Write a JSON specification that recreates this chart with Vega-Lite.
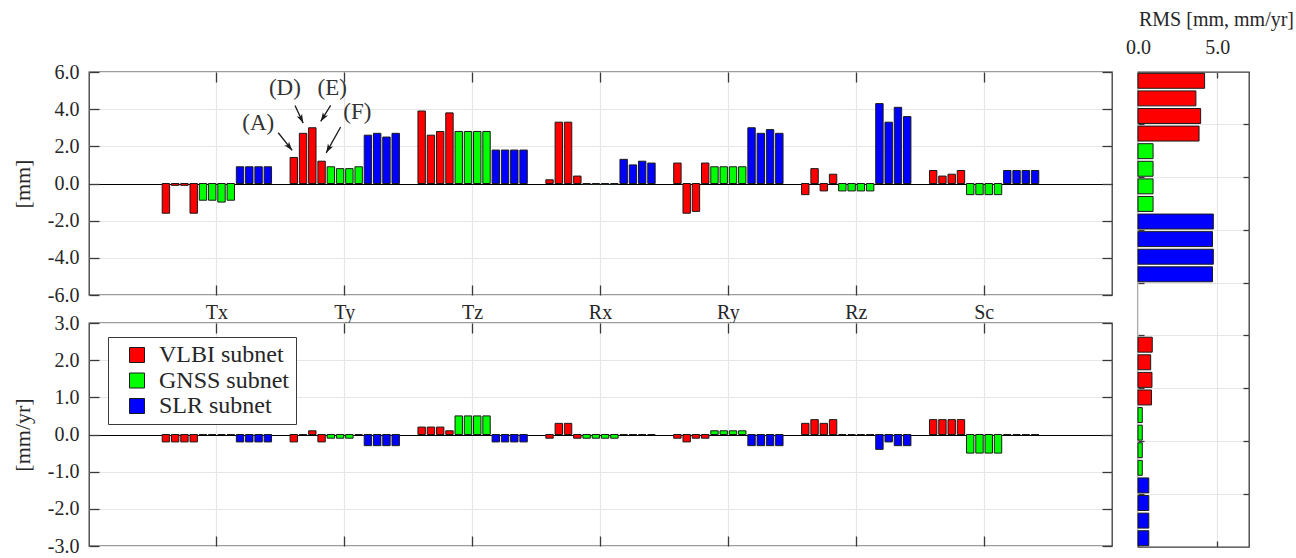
{
  "$schema": "https://vega.github.io/schema/vega-lite/v6.json",
  "padding": {"left": 10, "top": -403, "right": 0, "bottom": 0},
  "background": "white",
  "config": {
    "font": "Liberation Serif",
    "view": {"stroke": "#3a3a3a", "strokeWidth": 1.3},
    "axis": {
      "labelFont": "Liberation Serif", "labelFontSize": 20, "labelColor": "#262626",
      "titleFont": "Liberation Serif", "titleFontSize": 22, "titleFontWeight": "normal", "titleColor": "#262626",
      "domain": false, "tickColor": "#3a3a3a", "tickWidth": 1.3, "gridColor": "#e6e6e6", "gridWidth": 1.2
    },
    "legend": {
      "title": null,
      "symbolType": "square", "symbolSize": 225, "symbolStrokeColor": "#1a1a1a", "symbolStrokeWidth": 1,
      "symbolOffset": 11, "labelFont": "Liberation Serif", "labelFontSize": 24, "labelColor": "#262626",
      "labelOffset": 10, "rowPadding": 1.5, "padding": 6, "strokeColor": "#3a3a3a", "fillColor": "white"
    }
  },
  "datasets": {
    "top": [
      {"param":"Tx","subnet":"VLBI subnet","series":"VLBI A","v":-1.6},{"param":"Tx","subnet":"VLBI subnet","series":"VLBI D","v":-0.1},{"param":"Tx","subnet":"VLBI subnet","series":"VLBI E","v":-0.1},{"param":"Tx","subnet":"VLBI subnet","series":"VLBI F","v":-1.6},
      {"param":"Tx","subnet":"GNSS subnet","series":"GNSS A","v":-0.9},{"param":"Tx","subnet":"GNSS subnet","series":"GNSS D","v":-0.9},{"param":"Tx","subnet":"GNSS subnet","series":"GNSS E","v":-1.0},{"param":"Tx","subnet":"GNSS subnet","series":"GNSS F","v":-0.9},
      {"param":"Tx","subnet":"SLR subnet","series":"SLR A","v":0.9},{"param":"Tx","subnet":"SLR subnet","series":"SLR D","v":0.9},{"param":"Tx","subnet":"SLR subnet","series":"SLR E","v":0.9},{"param":"Tx","subnet":"SLR subnet","series":"SLR F","v":0.9},
      {"param":"Ty","subnet":"VLBI subnet","series":"VLBI A","v":1.4},{"param":"Ty","subnet":"VLBI subnet","series":"VLBI D","v":2.7},{"param":"Ty","subnet":"VLBI subnet","series":"VLBI E","v":3.0},{"param":"Ty","subnet":"VLBI subnet","series":"VLBI F","v":1.2},
      {"param":"Ty","subnet":"GNSS subnet","series":"GNSS A","v":0.9},{"param":"Ty","subnet":"GNSS subnet","series":"GNSS D","v":0.8},{"param":"Ty","subnet":"GNSS subnet","series":"GNSS E","v":0.8},{"param":"Ty","subnet":"GNSS subnet","series":"GNSS F","v":0.9},
      {"param":"Ty","subnet":"SLR subnet","series":"SLR A","v":2.6},{"param":"Ty","subnet":"SLR subnet","series":"SLR D","v":2.7},{"param":"Ty","subnet":"SLR subnet","series":"SLR E","v":2.5},{"param":"Ty","subnet":"SLR subnet","series":"SLR F","v":2.7},
      {"param":"Tz","subnet":"VLBI subnet","series":"VLBI A","v":3.9},{"param":"Tz","subnet":"VLBI subnet","series":"VLBI D","v":2.6},{"param":"Tz","subnet":"VLBI subnet","series":"VLBI E","v":2.8},{"param":"Tz","subnet":"VLBI subnet","series":"VLBI F","v":3.8},
      {"param":"Tz","subnet":"GNSS subnet","series":"GNSS A","v":2.8},{"param":"Tz","subnet":"GNSS subnet","series":"GNSS D","v":2.8},{"param":"Tz","subnet":"GNSS subnet","series":"GNSS E","v":2.8},{"param":"Tz","subnet":"GNSS subnet","series":"GNSS F","v":2.8},
      {"param":"Tz","subnet":"SLR subnet","series":"SLR A","v":1.8},{"param":"Tz","subnet":"SLR subnet","series":"SLR D","v":1.8},{"param":"Tz","subnet":"SLR subnet","series":"SLR E","v":1.8},{"param":"Tz","subnet":"SLR subnet","series":"SLR F","v":1.8},
      {"param":"Rx","subnet":"VLBI subnet","series":"VLBI A","v":0.2},{"param":"Rx","subnet":"VLBI subnet","series":"VLBI D","v":3.3},{"param":"Rx","subnet":"VLBI subnet","series":"VLBI E","v":3.3},{"param":"Rx","subnet":"VLBI subnet","series":"VLBI F","v":0.4},
      {"param":"Rx","subnet":"GNSS subnet","series":"GNSS A","v":-0.05},{"param":"Rx","subnet":"GNSS subnet","series":"GNSS D","v":-0.05},{"param":"Rx","subnet":"GNSS subnet","series":"GNSS E","v":-0.05},{"param":"Rx","subnet":"GNSS subnet","series":"GNSS F","v":-0.05},
      {"param":"Rx","subnet":"SLR subnet","series":"SLR A","v":1.3},{"param":"Rx","subnet":"SLR subnet","series":"SLR D","v":1.0},{"param":"Rx","subnet":"SLR subnet","series":"SLR E","v":1.2},{"param":"Rx","subnet":"SLR subnet","series":"SLR F","v":1.1},
      {"param":"Ry","subnet":"VLBI subnet","series":"VLBI A","v":1.1},{"param":"Ry","subnet":"VLBI subnet","series":"VLBI D","v":-1.6},{"param":"Ry","subnet":"VLBI subnet","series":"VLBI E","v":-1.5},{"param":"Ry","subnet":"VLBI subnet","series":"VLBI F","v":1.1},
      {"param":"Ry","subnet":"GNSS subnet","series":"GNSS A","v":0.9},{"param":"Ry","subnet":"GNSS subnet","series":"GNSS D","v":0.9},{"param":"Ry","subnet":"GNSS subnet","series":"GNSS E","v":0.9},{"param":"Ry","subnet":"GNSS subnet","series":"GNSS F","v":0.9},
      {"param":"Ry","subnet":"SLR subnet","series":"SLR A","v":3.0},{"param":"Ry","subnet":"SLR subnet","series":"SLR D","v":2.7},{"param":"Ry","subnet":"SLR subnet","series":"SLR E","v":2.9},{"param":"Ry","subnet":"SLR subnet","series":"SLR F","v":2.7},
      {"param":"Rz","subnet":"VLBI subnet","series":"VLBI A","v":-0.6},{"param":"Rz","subnet":"VLBI subnet","series":"VLBI D","v":0.8},{"param":"Rz","subnet":"VLBI subnet","series":"VLBI E","v":-0.4},{"param":"Rz","subnet":"VLBI subnet","series":"VLBI F","v":0.5},
      {"param":"Rz","subnet":"GNSS subnet","series":"GNSS A","v":-0.4},{"param":"Rz","subnet":"GNSS subnet","series":"GNSS D","v":-0.4},{"param":"Rz","subnet":"GNSS subnet","series":"GNSS E","v":-0.4},{"param":"Rz","subnet":"GNSS subnet","series":"GNSS F","v":-0.4},
      {"param":"Rz","subnet":"SLR subnet","series":"SLR A","v":4.3},{"param":"Rz","subnet":"SLR subnet","series":"SLR D","v":3.3},{"param":"Rz","subnet":"SLR subnet","series":"SLR E","v":4.1},{"param":"Rz","subnet":"SLR subnet","series":"SLR F","v":3.6},
      {"param":"Sc","subnet":"VLBI subnet","series":"VLBI A","v":0.7},{"param":"Sc","subnet":"VLBI subnet","series":"VLBI D","v":0.4},{"param":"Sc","subnet":"VLBI subnet","series":"VLBI E","v":0.5},{"param":"Sc","subnet":"VLBI subnet","series":"VLBI F","v":0.7},
      {"param":"Sc","subnet":"GNSS subnet","series":"GNSS A","v":-0.6},{"param":"Sc","subnet":"GNSS subnet","series":"GNSS D","v":-0.6},{"param":"Sc","subnet":"GNSS subnet","series":"GNSS E","v":-0.6},{"param":"Sc","subnet":"GNSS subnet","series":"GNSS F","v":-0.6},
      {"param":"Sc","subnet":"SLR subnet","series":"SLR A","v":0.7},{"param":"Sc","subnet":"SLR subnet","series":"SLR D","v":0.7},{"param":"Sc","subnet":"SLR subnet","series":"SLR E","v":0.7},{"param":"Sc","subnet":"SLR subnet","series":"SLR F","v":0.7}
    ],
    "bottom": [
      {"param":"Tx","subnet":"VLBI subnet","series":"VLBI A","v":-0.2},{"param":"Tx","subnet":"VLBI subnet","series":"VLBI D","v":-0.2},{"param":"Tx","subnet":"VLBI subnet","series":"VLBI E","v":-0.2},{"param":"Tx","subnet":"VLBI subnet","series":"VLBI F","v":-0.2},
      {"param":"Tx","subnet":"GNSS subnet","series":"GNSS A","v":0.0},{"param":"Tx","subnet":"GNSS subnet","series":"GNSS D","v":0.0},{"param":"Tx","subnet":"GNSS subnet","series":"GNSS E","v":0.0},{"param":"Tx","subnet":"GNSS subnet","series":"GNSS F","v":0.0},
      {"param":"Tx","subnet":"SLR subnet","series":"SLR A","v":-0.2},{"param":"Tx","subnet":"SLR subnet","series":"SLR D","v":-0.2},{"param":"Tx","subnet":"SLR subnet","series":"SLR E","v":-0.2},{"param":"Tx","subnet":"SLR subnet","series":"SLR F","v":-0.2},
      {"param":"Ty","subnet":"VLBI subnet","series":"VLBI A","v":-0.2},{"param":"Ty","subnet":"VLBI subnet","series":"VLBI D","v":0.0},{"param":"Ty","subnet":"VLBI subnet","series":"VLBI E","v":0.1},{"param":"Ty","subnet":"VLBI subnet","series":"VLBI F","v":-0.2},
      {"param":"Ty","subnet":"GNSS subnet","series":"GNSS A","v":-0.1},{"param":"Ty","subnet":"GNSS subnet","series":"GNSS D","v":-0.1},{"param":"Ty","subnet":"GNSS subnet","series":"GNSS E","v":-0.1},{"param":"Ty","subnet":"GNSS subnet","series":"GNSS F","v":0.0},
      {"param":"Ty","subnet":"SLR subnet","series":"SLR A","v":-0.3},{"param":"Ty","subnet":"SLR subnet","series":"SLR D","v":-0.3},{"param":"Ty","subnet":"SLR subnet","series":"SLR E","v":-0.3},{"param":"Ty","subnet":"SLR subnet","series":"SLR F","v":-0.3},
      {"param":"Tz","subnet":"VLBI subnet","series":"VLBI A","v":0.2},{"param":"Tz","subnet":"VLBI subnet","series":"VLBI D","v":0.2},{"param":"Tz","subnet":"VLBI subnet","series":"VLBI E","v":0.2},{"param":"Tz","subnet":"VLBI subnet","series":"VLBI F","v":0.1},
      {"param":"Tz","subnet":"GNSS subnet","series":"GNSS A","v":0.5},{"param":"Tz","subnet":"GNSS subnet","series":"GNSS D","v":0.5},{"param":"Tz","subnet":"GNSS subnet","series":"GNSS E","v":0.5},{"param":"Tz","subnet":"GNSS subnet","series":"GNSS F","v":0.5},
      {"param":"Tz","subnet":"SLR subnet","series":"SLR A","v":-0.2},{"param":"Tz","subnet":"SLR subnet","series":"SLR D","v":-0.2},{"param":"Tz","subnet":"SLR subnet","series":"SLR E","v":-0.2},{"param":"Tz","subnet":"SLR subnet","series":"SLR F","v":-0.2},
      {"param":"Rx","subnet":"VLBI subnet","series":"VLBI A","v":-0.1},{"param":"Rx","subnet":"VLBI subnet","series":"VLBI D","v":0.3},{"param":"Rx","subnet":"VLBI subnet","series":"VLBI E","v":0.3},{"param":"Rx","subnet":"VLBI subnet","series":"VLBI F","v":-0.1},
      {"param":"Rx","subnet":"GNSS subnet","series":"GNSS A","v":-0.1},{"param":"Rx","subnet":"GNSS subnet","series":"GNSS D","v":-0.1},{"param":"Rx","subnet":"GNSS subnet","series":"GNSS E","v":-0.1},{"param":"Rx","subnet":"GNSS subnet","series":"GNSS F","v":-0.1},
      {"param":"Rx","subnet":"SLR subnet","series":"SLR A","v":0.0},{"param":"Rx","subnet":"SLR subnet","series":"SLR D","v":0.0},{"param":"Rx","subnet":"SLR subnet","series":"SLR E","v":0.0},{"param":"Rx","subnet":"SLR subnet","series":"SLR F","v":0.0},
      {"param":"Ry","subnet":"VLBI subnet","series":"VLBI A","v":-0.1},{"param":"Ry","subnet":"VLBI subnet","series":"VLBI D","v":-0.2},{"param":"Ry","subnet":"VLBI subnet","series":"VLBI E","v":-0.1},{"param":"Ry","subnet":"VLBI subnet","series":"VLBI F","v":-0.1},
      {"param":"Ry","subnet":"GNSS subnet","series":"GNSS A","v":0.1},{"param":"Ry","subnet":"GNSS subnet","series":"GNSS D","v":0.1},{"param":"Ry","subnet":"GNSS subnet","series":"GNSS E","v":0.1},{"param":"Ry","subnet":"GNSS subnet","series":"GNSS F","v":0.1},
      {"param":"Ry","subnet":"SLR subnet","series":"SLR A","v":-0.3},{"param":"Ry","subnet":"SLR subnet","series":"SLR D","v":-0.3},{"param":"Ry","subnet":"SLR subnet","series":"SLR E","v":-0.3},{"param":"Ry","subnet":"SLR subnet","series":"SLR F","v":-0.3},
      {"param":"Rz","subnet":"VLBI subnet","series":"VLBI A","v":0.3},{"param":"Rz","subnet":"VLBI subnet","series":"VLBI D","v":0.4},{"param":"Rz","subnet":"VLBI subnet","series":"VLBI E","v":0.3},{"param":"Rz","subnet":"VLBI subnet","series":"VLBI F","v":0.4},
      {"param":"Rz","subnet":"GNSS subnet","series":"GNSS A","v":0.0},{"param":"Rz","subnet":"GNSS subnet","series":"GNSS D","v":0.0},{"param":"Rz","subnet":"GNSS subnet","series":"GNSS E","v":0.0},{"param":"Rz","subnet":"GNSS subnet","series":"GNSS F","v":0.0},
      {"param":"Rz","subnet":"SLR subnet","series":"SLR A","v":-0.4},{"param":"Rz","subnet":"SLR subnet","series":"SLR D","v":-0.2},{"param":"Rz","subnet":"SLR subnet","series":"SLR E","v":-0.3},{"param":"Rz","subnet":"SLR subnet","series":"SLR F","v":-0.3},
      {"param":"Sc","subnet":"VLBI subnet","series":"VLBI A","v":0.4},{"param":"Sc","subnet":"VLBI subnet","series":"VLBI D","v":0.4},{"param":"Sc","subnet":"VLBI subnet","series":"VLBI E","v":0.4},{"param":"Sc","subnet":"VLBI subnet","series":"VLBI F","v":0.4},
      {"param":"Sc","subnet":"GNSS subnet","series":"GNSS A","v":-0.5},{"param":"Sc","subnet":"GNSS subnet","series":"GNSS D","v":-0.5},{"param":"Sc","subnet":"GNSS subnet","series":"GNSS E","v":-0.5},{"param":"Sc","subnet":"GNSS subnet","series":"GNSS F","v":-0.5},
      {"param":"Sc","subnet":"SLR subnet","series":"SLR A","v":0.0},{"param":"Sc","subnet":"SLR subnet","series":"SLR D","v":0.0},{"param":"Sc","subnet":"SLR subnet","series":"SLR E","v":0.0},{"param":"Sc","subnet":"SLR subnet","series":"SLR F","v":0.0}
    ],
    "rms": [
      {"subnet":"VLBI subnet","row":"VLBI A mm","rms":4.2},{"subnet":"VLBI subnet","row":"VLBI D mm","rms":3.65},{"subnet":"VLBI subnet","row":"VLBI E mm","rms":3.95},{"subnet":"VLBI subnet","row":"VLBI F mm","rms":3.85},
      {"subnet":"GNSS subnet","row":"GNSS A mm","rms":0.95},{"subnet":"GNSS subnet","row":"GNSS D mm","rms":0.95},{"subnet":"GNSS subnet","row":"GNSS E mm","rms":0.95},{"subnet":"GNSS subnet","row":"GNSS F mm","rms":0.95},
      {"subnet":"SLR subnet","row":"SLR A mm","rms":4.75},{"subnet":"SLR subnet","row":"SLR D mm","rms":4.7},{"subnet":"SLR subnet","row":"SLR E mm","rms":4.75},{"subnet":"SLR subnet","row":"SLR F mm","rms":4.7},
      {"subnet":"VLBI subnet","row":"VLBI A mm/yr","rms":0.9},{"subnet":"VLBI subnet","row":"VLBI D mm/yr","rms":0.8},{"subnet":"VLBI subnet","row":"VLBI E mm/yr","rms":0.88},{"subnet":"VLBI subnet","row":"VLBI F mm/yr","rms":0.85},
      {"subnet":"GNSS subnet","row":"GNSS A mm/yr","rms":0.27},{"subnet":"GNSS subnet","row":"GNSS D mm/yr","rms":0.27},{"subnet":"GNSS subnet","row":"GNSS E mm/yr","rms":0.27},{"subnet":"GNSS subnet","row":"GNSS F mm/yr","rms":0.27},
      {"subnet":"SLR subnet","row":"SLR A mm/yr","rms":0.68},{"subnet":"SLR subnet","row":"SLR D mm/yr","rms":0.68},{"subnet":"SLR subnet","row":"SLR E mm/yr","rms":0.68},{"subnet":"SLR subnet","row":"SLR F mm/yr","rms":0.68}
    ],
    "notes": [
      {"label":"(A)","tx":1.324,"ty":3.27,"ax":1.48,"ay":2.73,"hx":1.589,"hy":1.78,"dir":141.6},
      {"label":"(D)","tx":1.532,"ty":5.13,"ax":1.611,"ay":4.2,"hx":1.675,"hy":3.25,"dir":154.7},
      {"label":"(E)","tx":1.902,"ty":5.13,"ax":1.89,"ay":4.2,"hx":1.812,"hy":3.34,"dir":212},
      {"label":"(F)","tx":2.098,"ty":3.84,"ax":1.968,"ay":3.04,"hx":1.855,"hy":1.65,"dir":209}
    ]
  },
  "resolve": {"legend": {"color": "independent"}},
  "hconcat": [
    {
      "resolve": {"legend": {"color": "independent"}},
      "vconcat": [
        {
          "width": 1023, "height": 223,
          "data": {"name": "top"},
          "resolve": {"scale": {"x": "independent"}, "axis": {"x": "independent", "y": "independent"}},
          "layer": [
            {
              "mark": {"type": "bar", "stroke": "#1a1a1a", "strokeWidth": 1},
              "encoding": {
                "x": {"field": "param", "type": "nominal", "scale": {"domain": ["Tx","Ty","Tz","Rx","Ry","Rz","Sc"], "paddingInner": 0, "paddingOuter": 0.5},
                      "axis": {"orient": "bottom", "title": null, "labelAngle": 0, "grid": true, "bandPosition": 0.5, "tickSize": -10, "labelPadding": 17}},
                "xOffset": {"field": "series", "type": "nominal", "scale": {"domain": ["VLBI A","VLBI D","VLBI E","VLBI F","GNSS A","GNSS D","GNSS E","GNSS F","SLR A","SLR D","SLR E","SLR F"], "paddingInner": 0.2, "paddingOuter": 1.6}},
                "y": {"field": "v", "type": "quantitative", "scale": {"domain": [-6, 6], "nice": false, "zero": false},
                      "axis": {"orient": "left", "title": "[mm]", "titlePadding": 13, "values": [-6,-4,-2,0,2,4,6], "format": ".1f", "labelExpr": "replace(datum.label, '\u2212', '-')", "grid": true,
                               "gridColor": {"condition": {"test": "datum.value === 0", "value": "#000000"}, "value": "#e6e6e6"}, "tickSize": -10, "labelPadding": 20}},
                "color": {"field": "subnet", "type": "nominal", "scale": {"domain": ["VLBI subnet","GNSS subnet","SLR subnet"], "range": ["#ff0000","#00ff00","#0000ff"]}, "legend": null}
              }
            },
            {
              "mark": {"type": "bar", "opacity": 0},
              "encoding": {
                "x": {"field": "param", "type": "nominal", "scale": {"domain": ["Tx","Ty","Tz","Rx","Ry","Rz","Sc"], "paddingInner": 0, "paddingOuter": 0.5},
                      "axis": {"orient": "top", "title": null, "labels": false, "grid": false, "bandPosition": 0.5, "tickSize": -10}},
                "y": {"field": "v", "type": "quantitative",
                      "axis": {"orient": "right", "title": null, "labels": false, "grid": false, "values": [-6,-4,-2,0,2,4,6], "tickSize": -10}}
              }
            },
            {
              "data": {"name": "notes"},
              "mark": {"type": "text", "font": "Liberation Serif", "fontSize": 23, "color": "#333333", "baseline": "middle", "align": "center"},
              "encoding": {
                "x": {"field": "tx", "type": "quantitative", "scale": {"domain": [0, 8], "nice": false, "zero": false}, "axis": null},
                "y": {"field": "ty", "type": "quantitative", "axis": null},
                "text": {"field": "label"}
              }
            },
            {
              "data": {"name": "notes"},
              "mark": {"type": "rule", "color": "#1a1a1a", "strokeWidth": 1.3},
              "encoding": {
                "x": {"field": "ax", "type": "quantitative", "scale": {"domain": [0, 8], "nice": false, "zero": false}, "axis": null},
                "x2": {"field": "hx"},
                "y": {"field": "ay", "type": "quantitative", "axis": null},
                "y2": {"field": "hy"}
              }
            },
            {
              "data": {"name": "notes"},
              "mark": {"type": "point", "shape": "M0,0 L-1,3 L0,2.2 L1,3 Z", "filled": true, "color": "#1a1a1a", "size": 36, "opacity": 1},
              "encoding": {
                "x": {"field": "hx", "type": "quantitative", "scale": {"domain": [0, 8], "nice": false, "zero": false}, "axis": null},
                "y": {"field": "hy", "type": "quantitative", "axis": null},
                "angle": {"field": "dir", "type": "quantitative", "scale": null}
              }
            }
          ]
        },
        {
          "width": 1023, "height": 223,
          "data": {"name": "bottom"},
          "resolve": {"axis": {"x": "independent", "y": "independent"}},
          "layer": [
            {
              "mark": {"type": "bar", "stroke": "#1a1a1a", "strokeWidth": 1},
              "encoding": {
                "x": {"field": "param", "type": "nominal", "scale": {"domain": ["Tx","Ty","Tz","Rx","Ry","Rz","Sc"], "paddingInner": 0, "paddingOuter": 0.5},
                      "axis": {"orient": "bottom", "title": null, "labels": false, "grid": true, "bandPosition": 0.5, "tickSize": -10}},
                "xOffset": {"field": "series", "type": "nominal", "scale": {"domain": ["VLBI A","VLBI D","VLBI E","VLBI F","GNSS A","GNSS D","GNSS E","GNSS F","SLR A","SLR D","SLR E","SLR F"], "paddingInner": 0.2, "paddingOuter": 1.6}},
                "y": {"field": "v", "type": "quantitative", "scale": {"domain": [-3, 3], "nice": false, "zero": false},
                      "axis": {"orient": "left", "title": "[mm/yr]", "titlePadding": 13, "values": [-3,-2,-1,0,1,2,3], "format": ".1f", "labelExpr": "replace(datum.label, '\u2212', '-')", "grid": true,
                               "gridColor": {"condition": {"test": "datum.value === 0", "value": "#000000"}, "value": "#e6e6e6"}, "tickSize": -10, "labelPadding": 20}},
                "color": {"field": "subnet", "type": "nominal", "scale": {"domain": ["VLBI subnet","GNSS subnet","SLR subnet"], "range": ["#ff0000","#00ff00","#0000ff"]},
                          "legend": {"orient": "none", "legendX": 19, "legendY": 14}}
              }
            },
            {
              "mark": {"type": "bar", "opacity": 0},
              "encoding": {
                "x": {"field": "param", "type": "nominal",
                      "axis": {"orient": "top", "title": null, "labels": false, "grid": false, "bandPosition": 0.5, "tickSize": -10}},
                "y": {"field": "v", "type": "quantitative",
                      "axis": {"orient": "right", "title": null, "labels": false, "grid": false, "values": [-3,-2,-1,0,1,2,3], "tickSize": -10}}
              }
            }
          ]
        }
      ],
      "spacing": 28,
      "bounds": "flush"
    },
    {
      "width": 111, "height": 475,
      "data": {"name": "rms"},
      "resolve": {"axis": {"x": "independent", "y": "independent"}},
      "layer": [
        {
          "mark": {"type": "bar", "stroke": "#1a1a1a", "strokeWidth": 1},
          "encoding": {
            "y": {"field": "row", "type": "nominal",
                  "scale": {"domain": ["VLBI A mm","VLBI D mm","VLBI E mm","VLBI F mm","GNSS A mm","GNSS D mm","GNSS E mm","GNSS F mm","SLR A mm","SLR D mm","SLR E mm","SLR F mm","gap 1","gap 2","gap 3","VLBI A mm/yr","VLBI D mm/yr","VLBI E mm/yr","VLBI F mm/yr","GNSS A mm/yr","GNSS D mm/yr","GNSS E mm/yr","GNSS F mm/yr","SLR A mm/yr","SLR D mm/yr","SLR E mm/yr","SLR F mm/yr"], "paddingInner": 0.15, "paddingOuter": 0.075},
                  "axis": {"orient": "left", "title": null, "labels": false, "grid": true, "bandPosition": -0.09, "tickSize": -6,
                           "values": ["VLBI F mm","GNSS E mm","SLR D mm","gap 1","VLBI A mm/yr","VLBI F mm/yr","GNSS E mm/yr","SLR D mm/yr"]}},
            "x": {"field": "rms", "type": "quantitative", "scale": {"domain": [0, 7], "nice": false},
                  "axis": {"orient": "top", "title": "RMS [mm, mm/yr]", "titleFontSize": 20, "titleX": 78, "titleY": -53, "titleBaseline": "middle", "titleAlign": "center",
                           "values": [0, 5], "format": ".1f", "grid": true, "labelFlush": false, "tickSize": -6, "labelPadding": 21}},
            "color": {"field": "subnet", "type": "nominal", "legend": null}
          }
        },
        {
          "mark": {"type": "bar", "opacity": 0},
          "encoding": {
            "y": {"field": "row", "type": "nominal",
                  "axis": {"orient": "right", "title": null, "labels": false, "grid": false, "bandPosition": -0.09, "tickSize": -6,
                           "values": ["VLBI F mm","GNSS E mm","SLR D mm","gap 1","VLBI A mm/yr","VLBI F mm/yr","GNSS E mm/yr","SLR D mm/yr"]}},
            "x": {"field": "rms", "type": "quantitative",
                  "axis": {"orient": "bottom", "title": null, "labels": false, "grid": false, "values": [0, 5], "tickSize": -6}}
          }
        }
      ]
    }
  ],
  "spacing": 10
}
